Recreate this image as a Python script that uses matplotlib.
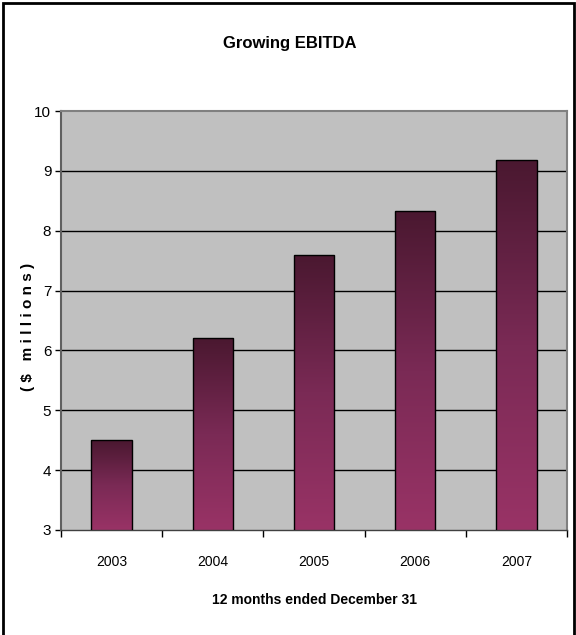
import numpy as np
import matplotlib.pyplot as plt
from matplotlib.colors import LinearSegmentedColormap

years = ['2003', '2004', '2005', '2006', '2007']
ebitda = [4.5, 6.2, 7.6, 8.33, 9.18]
yticks = [3, 4, 5, 6, 7, 8, 9, 10]

plt.rcParams['font.family'] = ['Liberation Sans', 'DejaVu Sans']

fig = plt.figure(figsize=(5.76, 6.35), dpi=100)
ax = fig.add_axes([0.1059, 0.1654, 0.8785, 0.6596])
ax.set_facecolor('#C0C0C0')

x = np.arange(len(years))
bars = ax.bar(x, ebitda, width=0.4, bottom=0, color='none', edgecolor='black',
              linewidth=1.0, zorder=3)

# vertical gradient inside every bar: dark plum on top, magenta at the base
cmap = LinearSegmentedColormap.from_list('plum', ['#993366', '#7A2A55', '#4A1830'])
grad = np.linspace(0, 1, 256).reshape(-1, 1)
for b in bars:
    x0, w, h = b.get_x(), b.get_width(), b.get_height()
    im = ax.imshow(grad, cmap=cmap, origin='lower', aspect='auto',
                   extent=[x0, x0 + w, 3, h], zorder=2)
    im.set_clip_path(b)

ax.set_xlim(-0.5, len(years) - 0.5)
ax.set_ylim(3, 10)
ax.set_yticks(yticks)
ax.set_yticklabels([str(v) for v in yticks], fontsize=11)
ax.set_xticks(x)
ax.set_xticklabels(years, fontsize=10)
ax.set_xticks(np.arange(-0.5, len(years)), minor=True)
ax.tick_params(axis='x', which='major', length=0, pad=18)
ax.tick_params(axis='x', which='minor', length=5, width=1, direction='out')
ax.tick_params(axis='y', length=4, width=1, direction='out', pad=3)

for v in yticks[1:-1]:
    ax.axhline(v, color='black', linewidth=1.0, zorder=1)

for s in ['top', 'right']:
    ax.spines[s].set_color('#808080')
    ax.spines[s].set_linewidth(1.5)
ax.spines['left'].set_color('#606060')
ax.spines['left'].set_linewidth(1.5)
ax.spines['bottom'].set_color('#404040')
ax.spines['bottom'].set_linewidth(1.0)

fig.text(0.503, 0.932, 'Growing EBITDA', fontsize=12, fontweight='bold',
         ha='center', va='center')
ax.set_xlabel('12 months ended December 31', fontsize=10, fontweight='bold', labelpad=17)
fig.text(0.049, 0.485, '( $   m i l l i o n s )', fontsize=11, fontweight='bold',
         rotation=90, ha='center', va='center')

# frame around the whole chart
fig.patches.append(plt.Rectangle((0.006, -0.01), 0.991, 1.005, transform=fig.transFigure,
                                 fill=False, edgecolor='black', linewidth=2))

fig.savefig('out.png', dpi=100)
